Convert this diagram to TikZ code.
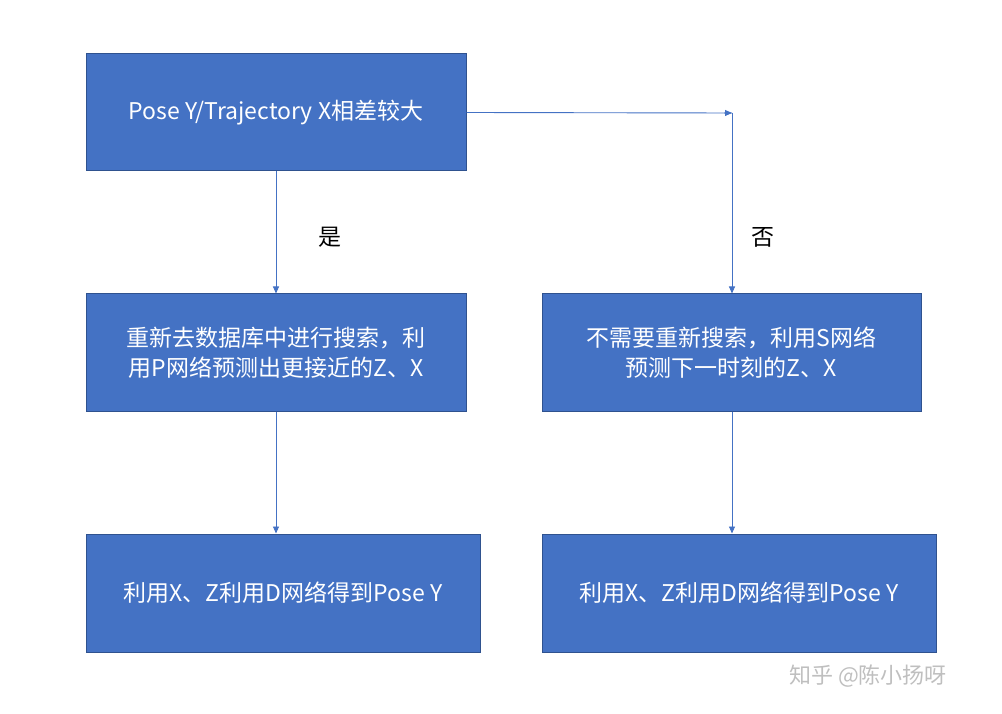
\documentclass[tikz,border=0pt]{standalone}
\usepackage{fontspec}
\setmainfont{Noto Sans CJK SC}
\usetikzlibrary{arrows.meta,calc}
\tikzset{
 box/.style={draw=boxborder,fill=boxfill,line width=1pt,text=white,align=center,font=\fontsize{23}{30}\selectfont,inner sep=0pt},
 conn/.style={draw=linecol,line width=0.9pt,-{Triangle[length=7pt,width=6pt]}},
 lab/.style={font=\fontsize{23}{28}\selectfont,text=black}
}
\definecolor{boxfill}{HTML}{4472C4}
\definecolor{boxborder}{HTML}{2F528F}
\definecolor{linecol}{HTML}{4472C4}
\begin{document}
\begin{tikzpicture}[x=1pt,y=-1pt]
\useasboundingbox (0,0) rectangle (1002,714);
\node[box,minimum width=380pt,minimum height=117pt] (a) at (276,112.5) {Pose Y/Trajectory X相差较大};
\node[box,minimum width=380pt,minimum height=117pt] (b) at (276,352.5) {重新去数据库中进行搜索，利\\用P网络预测出更接近的Z、X};
\node[box,minimum width=379pt,minimum height=117pt] (c) at (731.5,352.5) {不需要重新搜索，利用S网络\\预测下一时刻的Z、X};
\node[box,minimum width=394pt,minimum height=118pt] (d) at (283,593) {利用X、Z利用D网络得到Pose Y};
\node[box,minimum width=394pt,minimum height=118pt] (e) at (739,593) {利用X、Z利用D网络得到Pose Y};
\coordinate (k) at (732,113);
\draw[conn] (a.south) -- (b.north);
\draw[conn] (b.south) -- (b.south |- d.north);
\draw[draw=linecol,line width=0.9pt] (a.east) -- (k);
\draw[conn] ($(a.east)!0.97!(k)$) -- (k);
\draw[conn] (k) -- (k |- c.north);
\draw[conn] (k |- c.south) -- (k |- e.north);
\node[lab] (y) at (330,237) {是};
\node[lab] (n) at (763,237) {否};
\node[font=\fontsize{22}{26}\selectfont,text=black!25] (w) at (868,676) {知乎 @陈小扬呀};
\end{tikzpicture}
\end{document}
